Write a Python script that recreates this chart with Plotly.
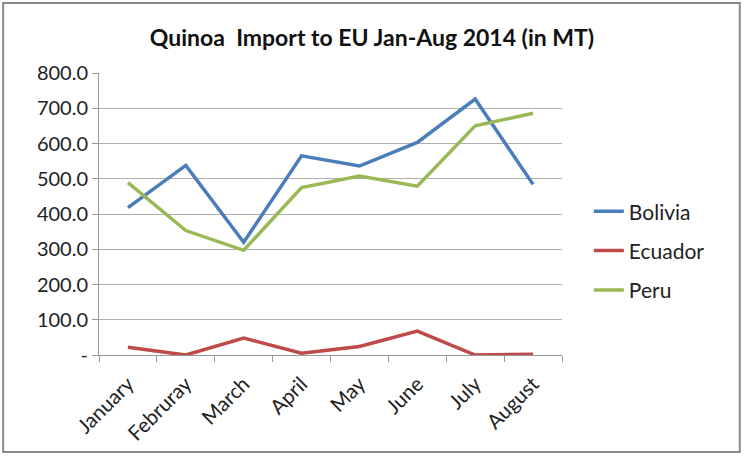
import plotly.graph_objects as go

months = ["January", "Februray", "March", "April", "May", "June", "July", "August"]
bolivia = [418, 538, 320, 565, 536, 603, 726, 484]
ecuador = [22, 0, 48, 5, 24, 68, 0, 2]
peru = [489, 353, 297, 475, 508, 479, 650, 686]
series_names = ["Bolivia", "Ecuador", "Peru"]
colors = ["#4a7ebb", "#be4b48", "#98b954"]
y_tickvals = [0, 100, 200, 300, 400, 500, 600, 700, 800]
y_ticktext = ["-", "100.0", "200.0", "300.0", "400.0", "500.0", "600.0", "700.0", "800.0"]

fig = go.Figure()
for name, vals, col in zip(series_names, [bolivia, ecuador, peru], colors):
    fig.add_trace(go.Scatter(x=months, y=vals, name=name, mode="lines",
                             legendgroup=name,
                             line=dict(color=col, width=3.5)))

font_family = "Lato, Carlito, 'Open Sans', sans-serif"
fig.update_layout(
    width=744, height=456,
    margin=dict(l=99, r=182, t=73, b=101),
    paper_bgcolor="white", plot_bgcolor="white",
    font=dict(family=font_family, size=20, color="#222"),
    title=dict(text="<b>Quinoa  Import to EU Jan-Aug 2014 (in MT)</b>",
               x=0.5, xanchor="center", y=0.917, yanchor="middle",
               font=dict(size=23, color="#111", family=font_family)),
    legend=dict(x=1.058, xanchor="left", y=0.37, yanchor="middle",
                font=dict(size=21, color="#222"), tracegroupgap=9,
                bgcolor="rgba(0,0,0,0)"),
    xaxis=dict(type="category", range=[-0.5, 7.5], showgrid=False,
               showline=True, linecolor="#999", linewidth=1,
               ticks="outside", tickson="boundaries", ticklen=6, tickcolor="#999",
               tickangle=-45, ticklabelstandoff=8,
               tickfont=dict(size=20.5, color="#222")),
    yaxis=dict(range=[0, 800], tickvals=y_tickvals, ticktext=y_ticktext,
               showgrid=True, gridcolor="#b0b0b0", gridwidth=1,
               showline=True, linecolor="#999", linewidth=1,
               ticks="outside", ticklen=6, tickcolor="#999",
               tickfont=dict(size=20, color="#222"), zeroline=False),
    shapes=[dict(type="rect", xref="paper", yref="paper",
                 x0=-0.207, x1=1.384, y0=-0.344, y1=1.248,
                 line=dict(color="#8a8a8a", width=2), fillcolor="rgba(0,0,0,0)",
                 layer="below")],
)

fig.write_html("out.html",
               config={"displayModeBar": False},
               post_script="document.body.style.margin='0';document.body.style.overflow='hidden';")
